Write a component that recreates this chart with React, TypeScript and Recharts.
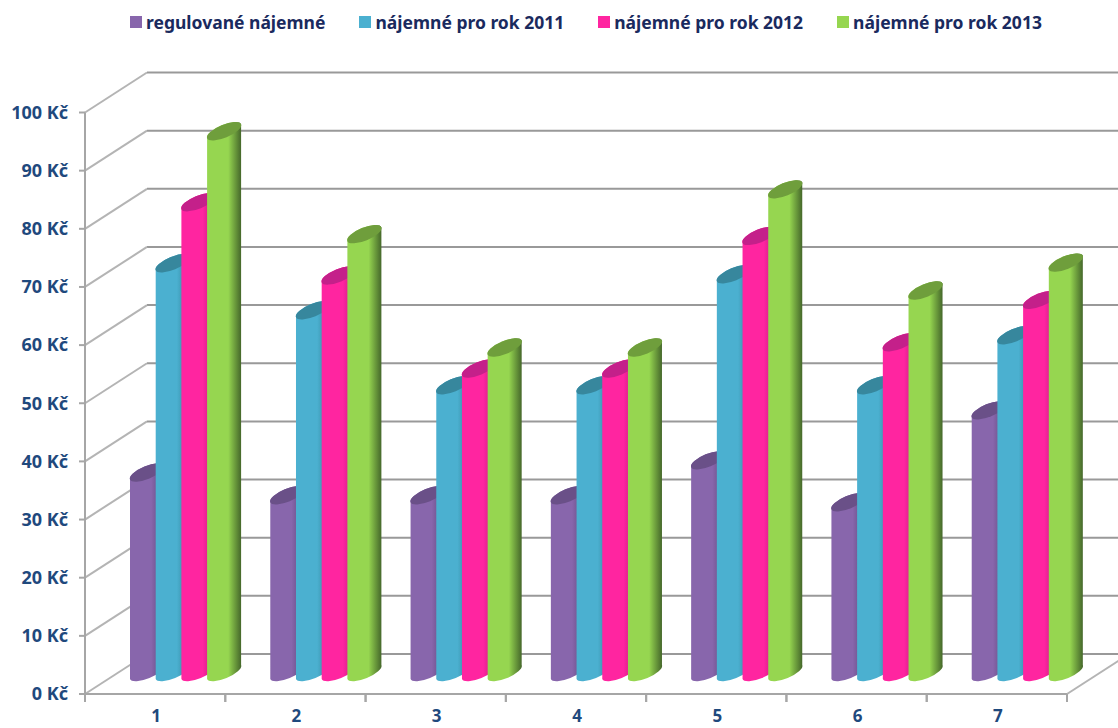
import { Bar, BarChart, CartesianGrid, Legend, XAxis, YAxis } from "recharts";

const categories = ["1", "2", "3", "4", "5", "6", "7"];
const regulated = [34.3, 30.4, 30.4, 30.4, 36.4, 29.2, 45];
const rent2011 = [70.3, 62.2, 49.3, 49.3, 68.4, 49.3, 57.9];
const rent2012 = [80.8, 68.2, 52.2, 52.2, 75, 56.7, 64];
const rent2013 = [93, 75.3, 55.8, 55.8, 83, 65.6, 70.4];
const yTicks = [0, 10, 20, 30, 40, 50, 60, 70, 80, 90, 100];

const seriesList = [
  { key: "regulated", name: "regulované nájemné", fill: "#8866AC", dark: "#5b4676", top: "#6a5088" },
  { key: "rent2011", name: "nájemné pro rok 2011", fill: "#4BB0D0", dark: "#2f7d92", top: "#37879d" },
  { key: "rent2012", name: "nájemné pro rok 2012", fill: "#FF25A0", dark: "#b81a77", top: "#c4208a" },
  { key: "rent2013", name: "nájemné pro rok 2013", fill: "#96D650", dark: "#44662a", top: "#6f9e3c" },
];

const chartData = categories.map((name, i) => ({
  name,
  regulated: regulated[i],
  rent2011: rent2011[i],
  rent2012: rent2012[i],
  rent2013: rent2013[i],
}));

const WIDTH = 1118;
const HEIGHT = 728;
const margin = { top: 112.5, right: 51, bottom: 0, left: 0 };
const BAND = (WIDTH - 85 - margin.right) / categories.length;

// depth of the floor and where the columns stand on it
const WALL_DX = 62;
const WALL_DY = -40;
const BAR_DX = 26;
const BAR_DY = -15;
const DIAMETER = 34;
const TILT = 14;

const axisColor = "#a6a6a6";
const diagonalColor = "#b4b4b4";
const gridColor = "#999999";
const labelColor = "#1f497d";
const labelFont = '"Noto Sans", sans-serif';

function Cylinder(props: any) {
  const { x, y, height, gradient, top } = props;
  if (!height) return null;
  const left = x + BAR_DX;
  const right = left + DIAMETER;
  const yTop = y + BAR_DY;
  const yBase = y + height + BAR_DY;
  const rx = Math.hypot(DIAMETER, TILT) / 2;
  const ry = 6.5;
  const angle = (-Math.atan2(TILT, DIAMETER) * 180) / Math.PI;
  const arc = `A${rx} ${ry} ${angle} 0 0`;
  return (
    <g>
      <path
        d={`M${left} ${yTop}L${left} ${yBase}${arc} ${right} ${yBase - TILT}L${right} ${yTop - TILT}${arc} ${left} ${yTop}Z`}
        fill={`url(#${gradient})`}
      />
      <ellipse
        cx={left + DIAMETER / 2}
        cy={yTop - TILT / 2}
        rx={rx}
        ry={ry}
        transform={`rotate(${angle} ${left + DIAMETER / 2} ${yTop - TILT / 2})`}
        fill={top}
      />
    </g>
  );
}

// back wall line plus the diagonal running over the side wall
function WallLine(props: any) {
  const { x1, x2, y1 } = props;
  const isFloor = Math.abs(y1 - 694) < 1;
  return (
    <g>
      <line x1={x1 + WALL_DX} x2={WIDTH} y1={y1 + WALL_DY} y2={y1 + WALL_DY} stroke={gridColor} strokeWidth={2} />
      <line x1={x1} x2={x1 + WALL_DX} y1={y1} y2={y1 + WALL_DY} stroke={diagonalColor} strokeWidth={2} />
      {isFloor && (
        <line x1={x2} x2={x2 + WALL_DX} y1={y1} y2={y1 + WALL_DY} stroke={diagonalColor} strokeWidth={2} />
      )}
    </g>
  );
}

function CategoryTick(props: any) {
  const { x, y, payload } = props;
  return (
    <g>
      <line x1={x - BAND / 2} x2={x - BAND / 2} y1={y - 8} y2={y} stroke={axisColor} strokeWidth={2} />
      <line x1={x + BAND / 2} x2={x + BAND / 2} y1={y - 8} y2={y} stroke={axisColor} strokeWidth={2} />
      <text x={x + 1} y={y + 20} textAnchor="middle" fontFamily={labelFont} fontWeight={700} fontSize={17} fill={labelColor}>
        {payload.value}
      </text>
    </g>
  );
}

function LegendRow({ payload }: any) {
  return (
    <div style={{ display: "flex", gap: 34, fontFamily: labelFont, fontWeight: 700, fontSize: 17.5, lineHeight: "22px", color: "#1a2a5e" }}>
      {(payload ?? []).map((entry: any) => (
        <div key={entry.value} style={{ display: "flex", alignItems: "center", gap: 4 }}>
          <span style={{ width: 12, height: 12, background: entry.color, display: "inline-block" }} />
          <span>{entry.value}</span>
        </div>
      ))}
    </div>
  );
}

export default function App() {
  return (
    <div style={{ position: "absolute", left: 0, top: 0, width: WIDTH, height: HEIGHT, background: "#fff" }}>
      <BarChart
        width={WIDTH}
        height={HEIGHT}
        data={chartData}
        margin={margin}
        barCategoryGap={0}
        barGap={0}
        barSize={25.7}
      >
        <defs>
          {seriesList.map((s) => (
            <linearGradient key={s.key} id={`body-${s.key}`} x1="0" y1="0" x2="1" y2="0">
              <stop offset="0%" stopColor={s.fill} />
              <stop offset="62%" stopColor={s.fill} />
              <stop offset="100%" stopColor={s.dark} />
            </linearGradient>
          ))}
        </defs>
        <CartesianGrid vertical={false} horizontal={(p: any) => <WallLine key={p.key} {...p} />} syncWithTicks />
        <XAxis
          dataKey="name"
          height={34}
          interval={0}
          tickLine={false}
          tick={<CategoryTick />}
          axisLine={{ stroke: axisColor, strokeWidth: 2 }}
        />
        <YAxis
          width={85}
          domain={[0, 100]}
          ticks={yTicks}
          interval={0}
          tickSize={6}
          tickMargin={11}
          tickFormatter={(v: number) => `${v} Kč`}
          tick={{ fontFamily: labelFont, fontWeight: 700, fontSize: 18, fill: labelColor }}
          tickLine={{ stroke: axisColor, strokeWidth: 2 }}
          axisLine={{ stroke: axisColor, strokeWidth: 2 }}
        />
        <Legend
          verticalAlign="middle"
          itemSorter={null}
          content={<LegendRow />}
          wrapperStyle={{ position: "absolute", left: 130, top: 11, width: 960 }}
        />
        {seriesList.map((s) => (
          <Bar
            key={s.key}
            dataKey={s.key}
            name={s.name}
            fill={s.fill}
            isAnimationActive={false}
            shape={(p: any) => <Cylinder {...p} gradient={`body-${s.key}`} top={s.top} />}
          />
        ))}
      </BarChart>
    </div>
  );
}
